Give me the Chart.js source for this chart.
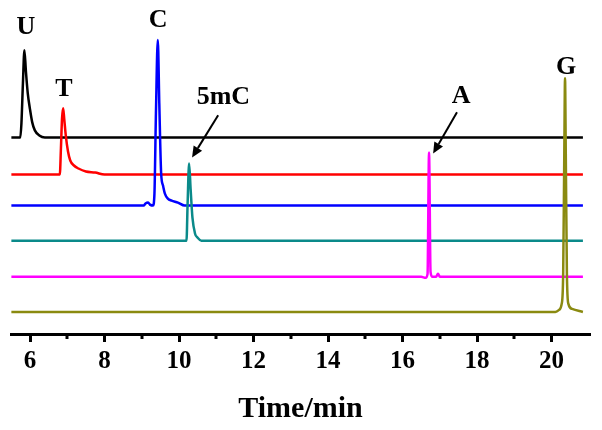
<!DOCTYPE html>
<html>
<head>
<meta charset="utf-8">
<script src="https://cdn.jsdelivr.net/npm/chart.js@4"></script>
<style>
  html, body { margin: 0; padding: 0; background: #fff; }
  #wrap { width: 602px; height: 430px; position: relative; }
</style>
</head>
<body>
<div id="wrap"><canvas id="chromChart"></canvas></div>
<script>
// retention time axis
const tickValues = [6, 8, 10, 12, 14, 16, 18, 20];
const minorTicks = [7, 9, 11, 13, 15, 17, 19];

// traces (time in min, signal offset per trace)
const uTime   = [5.5, 5.74, 5.77, 5.81, 5.85, 5.89, 5.94, 6.0, 6.06, 6.13, 6.25, 6.4, 20.84];
const uSignal = [196, 196, 210, 250, 283, 262, 240, 224, 211, 203, 198, 196, 196];

const tTime   = [5.5, 6.8, 6.83, 6.86, 6.89, 6.92, 6.96, 7.02, 7.08, 7.18, 7.3, 7.5, 7.75, 8.0, 20.84];
const tSignal = [159, 159, 185, 215, 225, 214, 198, 182, 173, 168, 165, 162, 161, 159, 159];

const cTime   = [5.5, 9.05, 9.1, 9.17, 9.22, 9.3, 9.34, 9.38, 9.43, 9.47, 9.52, 9.57, 9.62, 9.7, 9.8, 9.97, 10.15, 20.84];
const cSignal = [128, 128, 130, 131, 129, 128, 140, 220, 293, 230, 160, 148, 140, 135, 133, 131, 128, 128];

const mcTime   = [5.5, 10.2, 10.23, 10.27, 10.31, 10.36, 10.43, 10.5, 10.6, 20.84];
const mcSignal = [93, 93, 130, 170, 145, 116, 100, 96, 93, 93];

const aTime   = [5.5, 16.5, 16.62, 16.67, 16.71, 16.75, 16.8, 16.9, 16.95, 17.0, 20.84];
const aSignal = [57, 57, 56, 60, 181, 62, 57, 57, 60, 57, 57];

const gTime   = [5.5, 20.1, 20.2, 20.27, 20.31, 20.34, 20.36, 20.38, 20.41, 20.45, 20.55, 20.84];
const gSignal = [22, 22, 24, 30, 60, 180, 255, 180, 60, 30, 25, 22];

// peak labels and arrows, in data coordinates
const peakLabels = [
  { text: 'U',   x: 5.89,  y: 306 },
  { text: 'T',   x: 6.91,  y: 244 },
  { text: 'C',   x: 9.44,  y: 313 },
  { text: '5mC', x: 11.19, y: 236 },
  { text: 'A',   x: 17.57, y: 237 },
  { text: 'G',   x: 20.39, y: 266 }
];
const arrows = [
  { x0: 11.05, y0: 218, x1: 10.35, y1: 176 },
  { x0: 17.46, y0: 221, x1: 16.82, y1: 180 }
];

function pts(xs, ys) {
  return xs.map((x, i) => ({ x: x, y: ys[i] }));
}

const serif = "'Liberation Serif', 'Times New Roman', serif";

const annotate = {
  id: 'annotate',
  afterDraw(chart) {
    const ctx = chart.ctx;
    const xs = chart.scales.x, ys = chart.scales.y;
    ctx.save();
    // minor ticks
    ctx.strokeStyle = '#000';
    ctx.lineWidth = 3;
    const base = chart.chartArea.bottom;
    minorTicks.forEach(v => {
      const px = Math.round(xs.getPixelForValue(v));
      ctx.beginPath();
      ctx.moveTo(px, base);
      ctx.lineTo(px, base + 5);
      ctx.stroke();
    });
    // labels
    ctx.fillStyle = '#000';
    ctx.font = 'bold 26px ' + serif;
    ctx.textAlign = 'center';
    ctx.textBaseline = 'middle';
    peakLabels.forEach(l => {
      ctx.fillText(l.text, xs.getPixelForValue(l.x), ys.getPixelForValue(l.y));
    });
    // arrows
    ctx.lineWidth = 2;
    arrows.forEach(a => {
      const x0 = xs.getPixelForValue(a.x0), y0 = ys.getPixelForValue(a.y0);
      const x1 = xs.getPixelForValue(a.x1), y1 = ys.getPixelForValue(a.y1);
      const ang = Math.atan2(y1 - y0, x1 - x0);
      const hl = 11, hw = 5;
      const bx = x1 - hl * Math.cos(ang), by = y1 - hl * Math.sin(ang);
      ctx.beginPath();
      ctx.moveTo(x0, y0);
      ctx.lineTo(bx, by);
      ctx.stroke();
      ctx.beginPath();
      ctx.moveTo(x1, y1);
      ctx.lineTo(bx + hw * Math.sin(ang), by - hw * Math.cos(ang));
      ctx.lineTo(bx - hw * Math.sin(ang), by + hw * Math.cos(ang));
      ctx.closePath();
      ctx.fill();
    });
    ctx.restore();
  }
};

function trace(label, xs, ys, color, order) {
  return {
    label: label,
    data: pts(xs, ys),
    borderColor: color,
    borderWidth: 2.5,
    pointRadius: 0,
    cubicInterpolationMode: 'monotone',
    order: order
  };
}

new Chart(document.getElementById('chromChart'), {
  type: 'line',
  data: {
    datasets: [
      trace('U', uTime, uSignal, '#000000', 6),
      trace('T', tTime, tSignal, '#ff0000', 5),
      trace('C', cTime, cSignal, '#0000ff', 4),
      trace('5mC', mcTime, mcSignal, '#0a8a8a', 3),
      trace('A', aTime, aSignal, '#ff00ff', 2),
      trace('G', gTime, gSignal, '#8a8a10', 1)
    ]
  },
  options: {
    responsive: true,
    maintainAspectRatio: false,
    animation: false,
    layout: { padding: { left: 11, right: 12, top: 0, bottom: 3 } },
    plugins: {
      legend: { display: false },
      tooltip: { enabled: false }
    },
    scales: {
      x: {
        type: 'linear',
        min: 5.49,
        max: 21.03,
        afterBuildTicks: (scale) => {
          scale.ticks = tickValues.map(v => ({ value: v }));
        },
        border: { display: true, color: '#000', width: 3 },
        grid: {
          display: true,
          drawOnChartArea: false,
          drawTicks: true,
          tickLength: 8,
          tickWidth: 3,
          tickColor: '#000'
        },
        ticks: {
          color: '#000',
          padding: 5,
          maxRotation: 0,
          font: { family: serif, size: 25, weight: 'bold' },
          callback: (v) => String(v)
        },
        title: {
          display: true,
          text: 'Time/min',
          color: '#000',
          font: { family: serif, size: 30, weight: 'bold' },
          padding: { top: 9, bottom: 0 }
        }
      },
      y: {
        type: 'linear',
        display: false,
        min: 0,
        max: 333
      }
    }
  },
  plugins: [annotate]
});
</script>
</body>
</html>
